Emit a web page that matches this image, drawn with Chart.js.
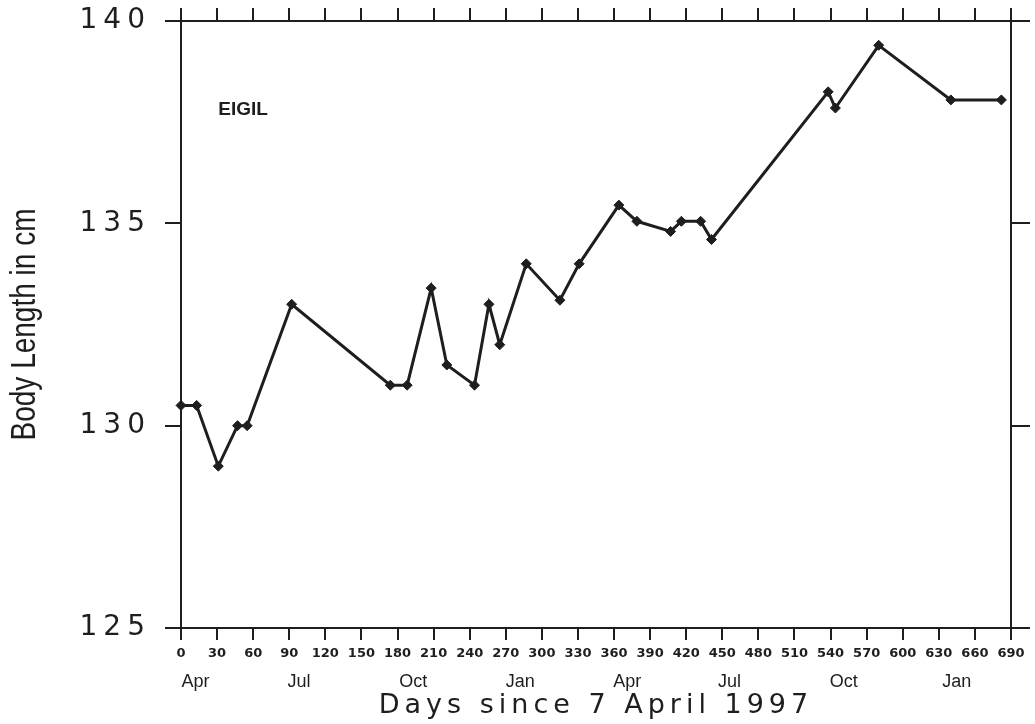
<!DOCTYPE html>
<html>
<head>
<meta charset="utf-8">
<script src="https://cdn.jsdelivr.net/npm/chart.js@4/dist/chart.umd.min.js"></script>
<style>
  html, body { margin: 0; padding: 0; background: #ffffff; }
  #wrap { width: 1035px; height: 724px; position: relative; }
</style>
</head>
<body>
<div id="wrap"><canvas id="c"></canvas></div>
<script>
// ---- data ----
const days = [0, 13, 31, 47, 55, 92, 174, 188, 208, 221, 244, 256, 265, 287, 315, 331, 364, 379, 407, 416, 432, 441, 538, 544, 580, 640, 682];
const bodyLength = [130.5, 130.5, 129.0, 130.0, 130.0, 133.0, 131.0, 131.0, 133.4, 131.5, 131.0, 133.0, 132.0, 134.0, 133.1, 134.0, 135.45, 135.05, 134.8, 135.05, 135.05, 134.6, 138.25, 137.85, 139.4, 138.05, 138.05];
const monthLabels = ['Apr', 'Jul', 'Oct', 'Jan', 'Apr', 'Jul', 'Oct', 'Jan'];
const monthDays = [12, 98, 193, 282, 371, 456, 551, 645];
const xRange = [0, 690];
const xStep = 30;
const yRange = [125, 140];
const yStep = 5;
const animalName = 'EIGIL';
const animalLabelAt = [31, 137.8];
const xTitle = 'Days since 7 April 1997';
const yTitle = 'Body Length in cm';

const ink = '#1e1e1e';

const points = days.map((d, i) => ({x: d, y: bodyLength[i]}));

// text styling tweaks for the wide / narrow plotter-style fonts
const scaleSpacing = { y: {labels: '6px', titleSqueeze: 0.8}, x3: {title: '5px'} };
const spacingPlugin = {
  id: 'spacingPlugin',
  beforeDraw(chart) {
    for (const [id, cfg] of Object.entries(scaleSpacing)) {
      const s = chart.scales[id];
      if (!s || s._spPatched) continue;
      s._spPatched = true;
      const wrap = (name, fn) => {
        const orig = s[name].bind(s);
        s[name] = function (...args) {
          const ctx = chart.ctx;
          ctx.save();
          fn(ctx);
          try { orig(...args); } finally { ctx.restore(); }
        };
      };
      if (cfg.labels) wrap('drawLabels', ctx => { ctx.letterSpacing = cfg.labels; });
      if (cfg.title) wrap('drawTitle', ctx => { ctx.letterSpacing = cfg.title; });
      if (cfg.titleSqueeze) wrap('drawTitle', ctx => {
        const cy = (s.top + s.bottom) / 2;
        ctx.translate(0, cy);
        ctx.scale(1, cfg.titleSqueeze);
        ctx.translate(0, -cy);
      });
    }
  }
};

const notePlugin = {
  id: 'notePlugin',
  afterDatasetsDraw(chart) {
    const {ctx, scales} = chart;
    ctx.save();
    ctx.font = 'bold 19px "Liberation Sans", Arial, sans-serif';
    ctx.fillStyle = ink;
    ctx.textAlign = 'left';
    ctx.textBaseline = 'middle';
    ctx.fillText(animalName, scales.x.getPixelForValue(animalLabelAt[0]), scales.y.getPixelForValue(animalLabelAt[1]));
    ctx.restore();
  }
};

const noOverhang = s => { s.paddingTop = 0; s.paddingBottom = 0; s.paddingLeft = 0; s.paddingRight = 0; };

new Chart(document.getElementById('c'), {
  type: 'line',
  data: {
    datasets: [{
      data: points,
      borderColor: ink,
      borderWidth: 3,
      backgroundColor: ink,
      pointStyle: 'rectRot',
      pointRadius: 5,
      pointBackgroundColor: ink,
      pointBorderColor: ink,
      pointBorderWidth: 1,
      tension: 0,
      clip: false
    }]
  },
  options: {
    responsive: true,
    maintainAspectRatio: false,
    animation: false,
    events: [],
    layout: { padding: 0, autoPadding: false },
    plugins: { legend: { display: false }, tooltip: { enabled: false } },
    scales: {
      x: {
        type: 'linear', position: 'bottom', weight: 0,
        min: xRange[0], max: xRange[1],
        ticks: {
          stepSize: xStep, autoSkip: false, maxRotation: 0, minRotation: 0,
          color: ink, padding: 6,
          font: { family: '"DejaVu Sans", sans-serif', size: 13, weight: 'bold' }
        },
        grid: { drawOnChartArea: false, drawTicks: true, tickLength: 12, color: ink, lineWidth: 2 },
        border: { display: true, color: ink, width: 2 },
        afterFit: s => { s.height = 33; noOverhang(s); }
      },
      x3: {
        type: 'linear', position: 'bottom', weight: 1,
        min: xRange[0], max: xRange[1],
        afterBuildTicks: s => { s.ticks = monthDays.map(v => ({value: v})); },
        ticks: {
          autoSkip: false, maxRotation: 0, minRotation: 0, color: ink, padding: 2,
          callback: (v, i) => monthLabels[i],
          font: { family: '"Liberation Sans", Arial, sans-serif', size: 18 }
        },
        grid: { display: false },
        border: { display: false },
        title: {
          display: true, text: xTitle, color: ink,
          font: { family: '"DejaVu Sans", sans-serif', size: 27 },
          padding: { top: 0, bottom: 2 }
        },
        afterFit: s => { s.height = 63; noOverhang(s); }
      },
      x2: {
        type: 'linear', position: 'top',
        min: xRange[0], max: xRange[1],
        ticks: { stepSize: xStep, display: false, autoSkip: false },
        grid: { drawOnChartArea: false, drawTicks: true, tickLength: 13, color: ink, lineWidth: 2 },
        border: { display: true, color: ink, width: 2 },
        afterFit: s => { s.height = 21; noOverhang(s); }
      },
      y: {
        type: 'linear', position: 'left',
        min: yRange[0], max: yRange[1],
        ticks: {
          stepSize: yStep, color: ink, padding: 14,
          font: { family: '"DejaVu Sans", sans-serif', size: 28 }
        },
        grid: { drawOnChartArea: false, drawTicks: true, tickLength: 16, color: ink, lineWidth: 2 },
        border: { display: true, color: ink, width: 2 },
        title: {
          display: true, text: yTitle, color: ink,
          font: { family: '"Liberation Sans Narrow", "Liberation Sans", Arial, sans-serif', size: 35 },
          padding: { top: 4, bottom: 0 }
        },
        afterFit: s => { s.width = 181; noOverhang(s); }
      },
      y2: {
        type: 'linear', position: 'right',
        min: yRange[0], max: yRange[1],
        ticks: { stepSize: yStep, display: false },
        grid: { drawOnChartArea: false, drawTicks: true, tickLength: 19, color: ink, lineWidth: 2 },
        border: { display: true, color: ink, width: 2 },
        afterFit: s => { s.width = 24; noOverhang(s); }
      }
    }
  },
  plugins: [spacingPlugin, notePlugin]
});
</script>
</body>
</html>
